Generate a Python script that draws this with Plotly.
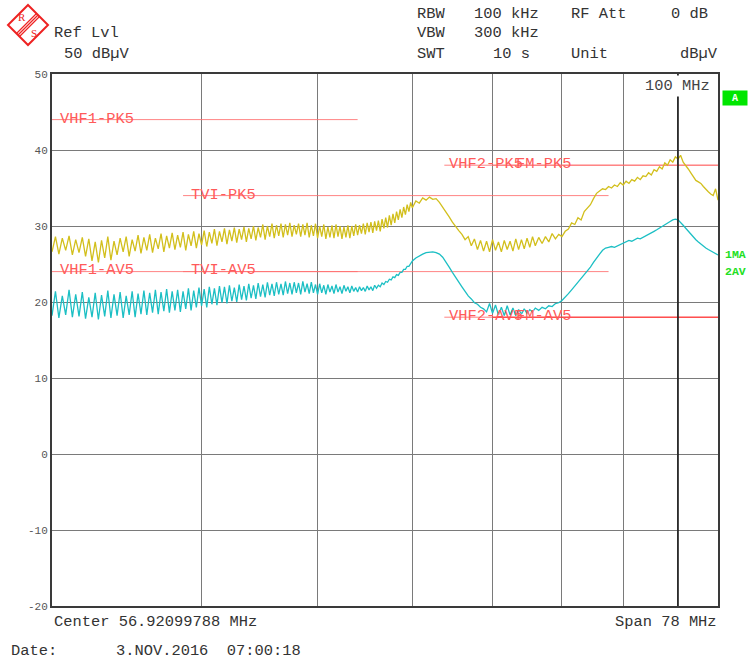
import math
import plotly.graph_objects as go

# ---------------- data ----------------
# sweep frequencies (MHz) and levels (dBuV)
FREQ_A = [30.0, 30.2, 30.4, 30.6, 30.8, 31.0, 31.2, 31.4, 31.6, 31.8,
          32.0, 32.2, 32.4, 32.6, 32.8, 33.0, 33.2, 33.4, 33.6, 33.8,
          34.0, 34.2, 34.4, 34.6, 34.8, 35.0, 35.2, 35.4, 35.6, 35.8,
          36.0, 36.2, 36.4, 36.6, 36.8, 37.0, 37.2, 37.4, 37.6, 37.8,
          38.0, 38.2, 38.4, 38.6, 38.8, 39.0, 39.2, 39.4, 39.6, 39.8,
          40.0, 40.2, 40.4, 40.6, 40.8, 41.0, 41.2, 41.4, 41.6, 41.8,
          42.0, 42.2, 42.4, 42.6, 42.8, 43.0, 43.2, 43.4, 43.6, 43.8,
          44.0, 44.2, 44.4, 44.6, 44.8, 45.0, 45.2, 45.4, 45.6, 45.8,
          46.0, 46.2, 46.4, 46.6, 46.8, 47.0, 47.2, 47.4, 47.6, 47.8,
          48.0, 48.2, 48.4, 48.6, 48.8, 49.0, 49.2, 49.4, 49.6, 49.8,
          50.0, 50.2, 50.4, 50.6, 50.8, 51.0, 51.2, 51.4, 51.6, 51.8,
          52.0, 52.2, 52.4, 52.6, 52.8, 53.0, 53.2, 53.4, 53.6, 53.8,
          54.0, 54.2, 54.4, 54.6, 54.8, 55.0, 55.2, 55.4, 55.6, 55.8,
          56.0, 56.2, 56.4, 56.6, 56.8, 57.0, 57.2, 57.4, 57.6, 57.8,
          58.0, 58.2, 58.4, 58.6, 58.8, 59.0, 59.2, 59.4, 59.6, 59.8,
          60.0]
PK_A = [26.6, 28.6, 26.3, 28.4, 26.8, 28.7, 26.2, 28.2, 26.5, 28.5,
        26.0, 28.3, 25.4, 27.9, 25.2, 28.1, 25.8, 28.6, 25.5, 28.0,
        26.2, 28.4, 26.6, 28.6, 26.0, 28.2, 26.7, 28.8, 26.4, 28.5,
        26.8, 28.9, 26.5, 28.4, 27.0, 29.0, 26.6, 28.7, 27.1, 29.1,
        26.9, 28.8, 27.2, 29.2, 26.8, 28.9, 27.4, 29.3, 27.1, 29.0,
        27.5, 29.4, 27.3, 29.2, 27.7, 29.6, 27.4, 29.3, 27.9, 29.7,
        27.6, 29.5, 28.0, 29.8, 27.8, 29.6, 28.2, 29.9, 27.9, 29.7,
        28.3, 30.0, 28.1, 29.8, 28.5, 30.2, 28.2, 30.0, 28.6, 30.3,
        28.4, 30.1, 28.7, 30.3, 28.5, 30.2, 28.8, 30.4, 28.6, 30.1,
        28.9, 30.3, 28.6, 30.2, 28.8, 30.4, 28.5, 30.1, 28.7, 30.3,
        28.4, 30.0, 28.6, 30.2, 28.3, 29.9, 28.5, 30.1, 28.4, 30.2,
        28.6, 30.0, 28.3, 29.9, 28.5, 30.1, 28.4, 30.0, 28.7, 30.2,
        28.8, 30.1, 29.0, 30.3, 28.9, 30.4, 29.2, 30.5, 29.1, 30.6,
        29.4, 30.7, 29.3, 30.9, 29.7, 31.1, 29.8, 31.4, 30.1, 31.6,
        30.4, 31.9, 30.8, 32.2, 31.1, 32.5, 31.5, 32.8, 31.9, 33.1,
        32.4]
AV_A = [18.2, 21.4, 17.9, 20.8, 18.3, 21.6, 18.0, 21.0, 18.1, 21.3,
        17.8, 20.6, 18.0, 21.2, 17.7, 20.9, 18.1, 21.5, 17.9, 21.0,
        18.2, 21.3, 17.9, 20.8, 18.3, 21.4, 18.0, 21.1, 18.4, 21.5,
        18.3, 21.2, 18.6, 21.6, 18.4, 21.3, 18.8, 21.7, 18.6, 21.4,
        18.9, 21.6, 18.7, 21.4, 19.1, 21.8, 18.9, 21.5, 19.3, 21.9,
        19.5, 21.7, 19.3, 22.0, 19.7, 21.8, 19.6, 22.1, 19.9, 22.0,
        19.8, 22.2, 20.1, 21.9, 20.0, 22.3, 20.3, 22.1, 20.2, 22.4,
        20.5, 22.2, 20.4, 22.5, 20.7, 22.3, 20.6, 22.6, 20.9, 22.4,
        20.8, 22.6, 21.0, 22.4, 20.9, 22.7, 21.1, 22.5, 21.0, 22.6,
        21.2, 22.5, 21.0, 22.7, 21.3, 22.4, 21.1, 22.6, 21.2, 22.3,
        21.0, 22.4, 21.2, 22.2, 21.0, 22.3, 21.3, 22.1, 21.1, 22.3,
        21.3, 22.0, 21.1, 22.2, 21.4, 22.0, 21.2, 22.1, 21.4, 21.9,
        21.3, 22.0, 21.5, 21.9, 21.4, 22.1, 21.6, 22.0, 21.5, 22.2,
        21.8, 22.2, 22.0, 22.5, 22.3, 22.7, 22.6, 23.0, 22.9, 23.3,
        23.2, 23.6, 23.5, 23.9, 23.9, 24.3, 24.3, 24.7, 24.7, 25.1,
        25.4]

FREQ_B = [60.4, 60.8, 61.2, 61.6, 62.0, 62.4, 62.8, 63.2, 63.6, 64.0,
          64.4, 64.8, 65.2, 65.6, 66.0, 66.4, 66.8, 67.2, 67.6, 68.0,
          68.4, 68.8, 69.2, 69.6, 70.0, 70.4, 70.8, 71.2, 71.6, 72.0,
          72.4, 72.8, 73.2, 73.6, 74.0, 74.4, 74.8, 75.2, 75.6, 76.0]
PK_B = [33.3, 33.0, 33.7, 33.4, 33.8, 33.5, 33.6, 33.1, 32.5, 31.8,
        31.2, 30.5, 29.9, 29.4, 28.9, 28.2, 28.6, 27.4, 28.3, 26.9,
        28.1, 26.7, 28.0, 26.6, 28.2, 26.8, 27.9, 26.6, 28.1, 26.9,
        28.0, 26.7, 28.3, 26.9, 28.2, 27.0, 28.4, 27.2, 28.6, 27.4]
AV_B = [25.8, 26.1, 26.3, 26.5, 26.6, 26.6, 26.5, 26.3, 25.9, 25.3,
        24.6, 23.9, 23.2, 22.6, 22.0, 21.4, 20.8, 20.4, 19.9, 19.7,
        19.3, 19.1, 18.7, 19.8, 18.5, 19.6, 18.3, 19.3, 18.2, 19.5,
        18.3, 19.2, 18.2, 19.0, 18.4, 19.1, 18.5, 19.0, 18.7, 19.2]

FREQ_C = [76.5, 77.0, 77.5, 78.0, 78.5, 79.0, 79.5, 80.0,
          80.5, 81.0, 81.5, 82.0, 82.5, 83.0, 83.5, 84.0,
          84.5, 85.0, 85.5, 86.0, 86.5, 87.0, 87.5, 88.0,
          88.5, 89.0, 89.5, 90.0, 90.5, 91.0, 91.5, 92.0,
          92.5, 93.0, 93.5, 94.0, 94.5, 95.0, 95.5, 96.0,
          96.5, 97.0, 97.5, 98.0, 98.5, 99.0, 99.5, 100.0,
          100.5, 101.0, 101.5, 102.0, 102.5, 103.0, 103.5, 104.0,
          104.5, 105.0, 105.5, 106.0, 106.5, 107.0, 107.5, 108.0]
PK_C = [28.5, 27.7, 28.6, 27.9, 29.0, 28.3, 28.9, 28.6,
        29.3, 29.6, 30.4, 30.2, 31.1, 30.8, 31.9, 32.3,
        32.8, 33.6, 34.3, 34.6, 34.9, 34.8, 35.2, 35.0,
        35.4, 35.2, 35.7, 35.4, 35.9, 35.6, 36.1, 35.9,
        36.4, 36.1, 36.6, 36.5, 37.0, 36.7, 37.4, 37.2,
        37.8, 37.5, 38.3, 38.0, 38.7, 38.4, 39.1, 38.8,
        39.3, 38.4, 38.0, 37.5, 37.0, 36.5, 36.0, 35.8,
        35.6, 35.2, 34.8, 34.5, 34.2, 34.0, 34.9, 33.4]
AV_C = [18.9, 19.3, 19.1, 19.5, 19.4, 19.8, 19.9, 20.2,
        20.6, 21.1, 21.6, 22.1, 22.6, 23.1, 23.6, 24.1,
        24.6, 25.2, 25.8, 26.3, 26.8, 27.1, 27.2, 27.3,
        27.2, 27.4, 27.6, 27.7, 27.9, 28.1, 28.0, 28.2,
        28.4, 28.3, 28.5, 28.7, 28.8, 29.1, 29.3, 29.5,
        29.7, 29.9, 30.2, 30.4, 30.6, 30.8, 30.9, 30.8,
        30.5, 30.1, 29.7, 29.3, 28.9, 28.5, 28.2, 27.9,
        27.6, 27.3, 27.1, 26.9, 26.7, 26.5, 26.3, 26.2]

LIMIT_LABELS = ["VHF1-PK5", "VHF1-AV5", "TVI-PK5", "TVI-AV5",
                "VHF2-PK5", "VHF2-AV5", "FM-PK5", "FM-AV5"]
LIMIT_START = [30.0, 30.0, 38.6, 38.6, 63.8, 63.8, 70.0, 70.0]
LIMIT_STOP = [54.0, 54.0, 87.5, 87.5, 108.0, 108.0, 108.0, 108.0]
LIMIT_LEVEL = [44, 24, 34, 24, 38, 18, 38, 18]

GRID_FREQ = [40, 50, 60, 70, 80, 90, 100]
Y_TICKS = [-20, -10, 0, 10, 20, 30, 40, 50]
MARKER_FREQ = 100

# ---------------- layout helpers ----------------
W, H = 748, 661
L, R, T, B = 52, 718, 74, 606   # plot area in window pixels


def px(x):
    return (x - L) / (R - L)


def py(y):
    return (B - y) / (B - T)


MONO = "Liberation Mono"
fig = go.Figure()

# limit lines
LIMIT_COLORS = ["rgba(255,110,110,0.85)"] * 7 + ["rgba(255,40,40,1)"]
for i in range(len(LIMIT_LABELS)):
    fig.add_trace(go.Scatter(
        x=[LIMIT_START[i], LIMIT_STOP[i]], y=[LIMIT_LEVEL[i], LIMIT_LEVEL[i]],
        mode="lines", line=dict(color=LIMIT_COLORS[i], width=1),
        hoverinfo="skip"))

freq = FREQ_A + FREQ_B + FREQ_C
pk = PK_A + PK_B + PK_C
av = AV_A + AV_B + AV_C

fig.add_trace(go.Scatter(x=freq, y=pk, mode="lines",
                         line=dict(color="#d2bf1c", width=1.3), name="1MA"))
fig.add_trace(go.Scatter(x=freq, y=av, mode="lines",
                         line=dict(color="#1cbfc4", width=1.3), name="2AV"))

fig.update_layout(
    width=W, height=H,
    margin=dict(l=L, r=W - R, t=T, b=H - B, pad=0),
    paper_bgcolor="white", plot_bgcolor="white",
    showlegend=False,
    font=dict(family=MONO, size=14, color="#333"),
    xaxis=dict(type="log", range=[math.log10(30), math.log10(108)],
               tickvals=GRID_FREQ, showticklabels=False, ticks="",
               showgrid=True, gridcolor="#7a7a7a", gridwidth=1,
               showline=True, linecolor="#3a3a3a", linewidth=2, mirror=True,
               zeroline=False, fixedrange=True),
    yaxis=dict(range=[-20, 50], tickvals=Y_TICKS,
               ticktext=[str(v) for v in Y_TICKS], ticks="",
               showgrid=True, gridcolor="#7a7a7a", gridwidth=1,
               showline=True, linecolor="#3a3a3a", linewidth=2, mirror=True,
               zeroline=False, tickfont=dict(family=MONO, size=11, color="#555"),
               fixedrange=True),
)

# display line at 100 MHz
fig.add_shape(type="line", xref="x", yref="y", x0=MARKER_FREQ, x1=MARKER_FREQ,
              y0=-20, y1=50, line=dict(color="#1a1a1a", width=1.6), layer="above")

annotations = []


def txt(text, x, y, anchor="left", size=15.4, color="#333", bold=False,
        bg=None, family=MONO):
    a = dict(text=("<b>%s</b>" % text) if bold else text,
             xref="paper", yref="paper", x=px(x), y=py(y),
             xanchor=anchor, yanchor="middle", showarrow=False,
             font=dict(family=family, size=size, color=color))
    if bg:
        a["bgcolor"] = bg
        a["borderpad"] = 1
    annotations.append(a)


# header
txt("Ref Lvl", 52, 33)
txt("50 dB\u00b5V", 62, 54)
txt("RBW", 415, 14)
txt("100 kHz", 472, 14)
txt("RF Att", 569, 14)
txt("0 dB", 710, 14, anchor="right")
txt("VBW", 415, 33)
txt("300 kHz", 472, 33)
txt("SWT", 415, 54)
txt("10 s", 491, 54)
txt("Unit", 569, 54)
txt("dB\u00b5V", 720, 54, anchor="right")

# footer
txt("Center 56.92099788 MHz", 52, 622)
txt("Span 78 MHz", 719, 622, anchor="right")
txt("Date:", 9, 651)
txt("3.NOV.2016  07:00:18", 114, 651)

# display line label
txt("100 MHz", 712, 86, anchor="right", color="#444", bg="white")

# limit labels (pixel positions of the text)
LABEL_POS = [(58, 119), (58, 270), (189, 195), (189, 270),
             (447, 164), (447, 316), (514, 164), (514, 316)]
for i, name in enumerate(LIMIT_LABELS):
    txt(name, LABEL_POS[i][0], LABEL_POS[i][1], color="#ff5a5a")

# right side status
annotations.append(dict(text="<b>A</b>", xref="paper", yref="paper",
                        x=px(735), y=py(98), xanchor="center", yanchor="middle",
                        showarrow=False, bgcolor="#00e600", width=22, height=12,
                        font=dict(family=MONO, size=10, color="white")))
txt("1MA", 723, 254, size=11.5, color="#22e022", bold=True)
txt("2AV", 723, 271, size=11.5, color="#22e022", bold=True)

# R&S logo
txt("R", 22, 17, anchor="center", size=11, color="#ee2222", family="Liberation Serif")
txt("S", 34, 33, anchor="center", size=11, color="#ee2222", family="Liberation Serif")

fig.update_layout(annotations=annotations)

logo = [(28, 5), (48, 25), (28, 45), (8, 25)]
path = "M " + " L ".join("%f,%f" % (px(a), py(b)) for a, b in logo) + " Z"
fig.add_shape(type="path", xref="paper", yref="paper", path=path,
              line=dict(color="#ee2222", width=2))
for off in (-2.2, 0, 2.2):
    fig.add_shape(type="line", xref="paper", yref="paper",
                  x0=px(18 + off * 0.7), y0=py(35 + off * 0.7),
                  x1=px(38 + off * 0.7), y1=py(15 + off * 0.7),
                  line=dict(color="#ee2222", width=1.2))

# remove the page's default 8 px body margin so the figure fills the window
fig.write_html("out.html",
               config={"displayModeBar": False},
               post_script="document.body.style.margin='0';"
                           "document.body.style.overflow='hidden';")
